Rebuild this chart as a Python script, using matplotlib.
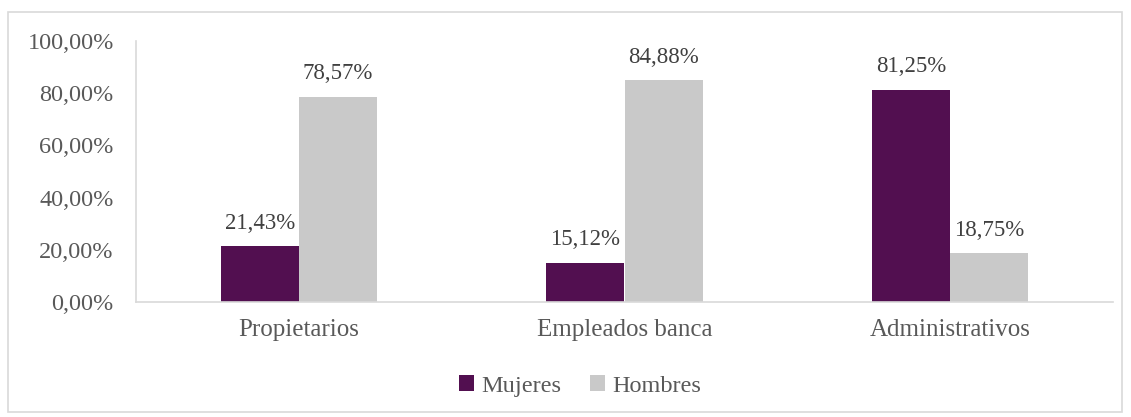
import numpy as np
import matplotlib.pyplot as plt
from matplotlib.patches import Rectangle
from matplotlib.ticker import FuncFormatter

categories = ['Propietarios', 'Empleados banca', 'Administrativos']
mujeres = [21.43, 15.12, 81.25]
hombres = [78.57, 84.88, 18.75]
series_names = ['Mujeres', 'Hombres']

purple = '#520F50'
grey = '#C9C9C9'
plt.rcParams['font.family'] = ['Liberation Serif', 'DejaVu Serif']

fig = plt.figure(figsize=(11.31, 4.17), dpi=100)
fig.patches.append(Rectangle((8 / 1131, 1 - 412 / 417), 1114 / 1131, 400 / 417,
                             transform=fig.transFigure, fill=False,
                             edgecolor='#D9D9D9', linewidth=1.2))
ax = fig.add_axes([136 / 1131, 1 - 302 / 417, 977 / 1131, 261 / 417])

x = np.arange(len(categories))
w = 0.24
b1 = ax.bar(x - w / 2, mujeres, w, color=purple, label=series_names[0])
b2 = ax.bar(x + w / 2, hombres, w, color=grey, label=series_names[1])

for bars, vals in [(b1, mujeres), (b2, hombres)]:
    for r, v in zip(bars, vals):
        ax.annotate(f'{v:.2f}%'.replace('.', ','),
                    (r.get_x() + r.get_width() / 2, v),
                    xytext=(0, 9), textcoords='offset points',
                    ha='center', va='bottom', fontsize=16.5, color='#404040')

ax.set_xlim(-0.5, 2.5)
ax.set_ylim(0, 100)
ax.set_yticks(np.arange(0, 101, 20))
ax.yaxis.set_major_formatter(FuncFormatter(lambda v, p: f'{v:.2f}%'.replace('.', ',')))
ax.set_xticks(x)
ax.set_xticklabels(categories)
ax.tick_params(axis='both', length=0, labelcolor='#595959')
ax.tick_params(axis='y', pad=16, labelsize=17.5)
ax.tick_params(axis='x', pad=12, labelsize=18)
for s in ['top', 'right']:
    ax.spines[s].set_visible(False)
for s in ['left', 'bottom']:
    ax.spines[s].set_color('#D9D9D9')
    ax.spines[s].set_linewidth(1.2)

leg = fig.legend(loc='center', bbox_to_anchor=(580 / 1131, 1 - 386 / 417), ncol=2,
                 frameon=False, fontsize=17.5, handlelength=0.6, handleheight=0.6,
                 handletextpad=0.3, columnspacing=1.2)
for t in leg.get_texts():
    t.set_color('#595959')

fig.savefig('out.png', dpi=100)
